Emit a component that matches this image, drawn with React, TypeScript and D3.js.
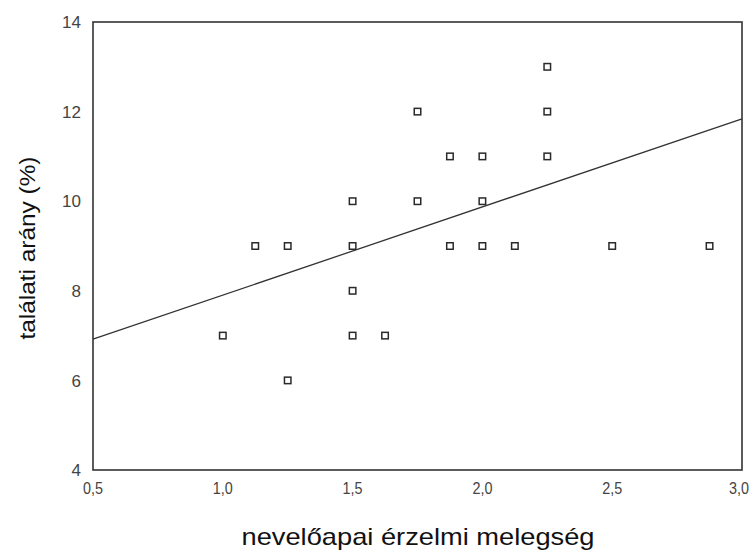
import React from "react";
import * as d3 from "d3";

const xValues = [1.0, 1.125, 1.25, 1.25, 1.5, 1.5, 1.5, 1.5, 1.625, 1.75, 1.75, 1.875, 1.875, 2.0, 2.0, 2.0, 2.125, 2.25, 2.25, 2.25, 2.5, 2.875];
const yValues = [7, 9, 9, 6, 10, 9, 8, 7, 7, 12, 10, 11, 9, 11, 10, 9, 9, 13, 12, 11, 9, 9];
const fitX = [0.5, 3.0];
const fitY = [6.92, 11.84];
const xTicks = [0.5, 1.0, 1.5, 2.0, 2.5, 3.0];
const yTicks = [4, 6, 8, 10, 12, 14];
const xTitle = "nevelőapai érzelmi melegség";
const yTitle = "találati arány (%)";

export default function App() {
  const W = 752, H = 551;
  const left = 93, right = 742, top = 22, bottom = 470;
  const x = d3.scaleLinear().domain([0.5, 3.0]).range([left, right]);
  const y = d3.scaleLinear().domain([4, 14]).range([bottom, top]);
  const line = d3.line<number>().x((d) => x(fitX[d])).y((d) => y(fitY[d]));
  const fmt = (v: number) => v.toFixed(1).replace(".", ",");
  const font = "'Liberation Sans', Arial, sans-serif";
  const s = 6.5;
  return (
    <svg width={W} height={H} style={{ position: "absolute", left: 0, top: 0, background: "#fff" }}>
      <rect x={left} y={top} width={right - left} height={bottom - top} fill="none" stroke="#333" strokeWidth={1.6} />
      <path d={line([0, 1]) || ""} fill="none" stroke="#333" strokeWidth={1.3} />
      {xValues.map((xv, i) => (
        <rect key={i} x={x(xv) - s / 2} y={y(yValues[i]) - s / 2} width={s} height={s} fill="#fff" stroke="#2a2a2a" strokeWidth={1.5} />
      ))}
      {yTicks.map((t) => (
        <text key={"y" + t} x={81} y={y(t)} dy="0.36em" textAnchor="end" fontSize={17} fontFamily={font} fill="#444">
          {t}
        </text>
      ))}
      {xTicks.map((t) => (
        <text key={"x" + t} x={Math.min(x(t), W - 13)} y={488} dy="0.36em" textAnchor="middle" fontSize={17} fontFamily={font} fill="#444" textLength={20} lengthAdjust="spacingAndGlyphs">
          {fmt(t)}
        </text>
      ))}
      <text x={418} y={545} textAnchor="middle" fontSize={24} fontFamily={font} fill="#111" textLength={353} lengthAdjust="spacingAndGlyphs">
        {xTitle}
      </text>
      <text transform={`translate(35,248) rotate(-90)`} textAnchor="middle" fontSize={22} fontFamily={font} fill="#111" textLength={183} lengthAdjust="spacingAndGlyphs">
        {yTitle}
      </text>
    </svg>
  );
}
